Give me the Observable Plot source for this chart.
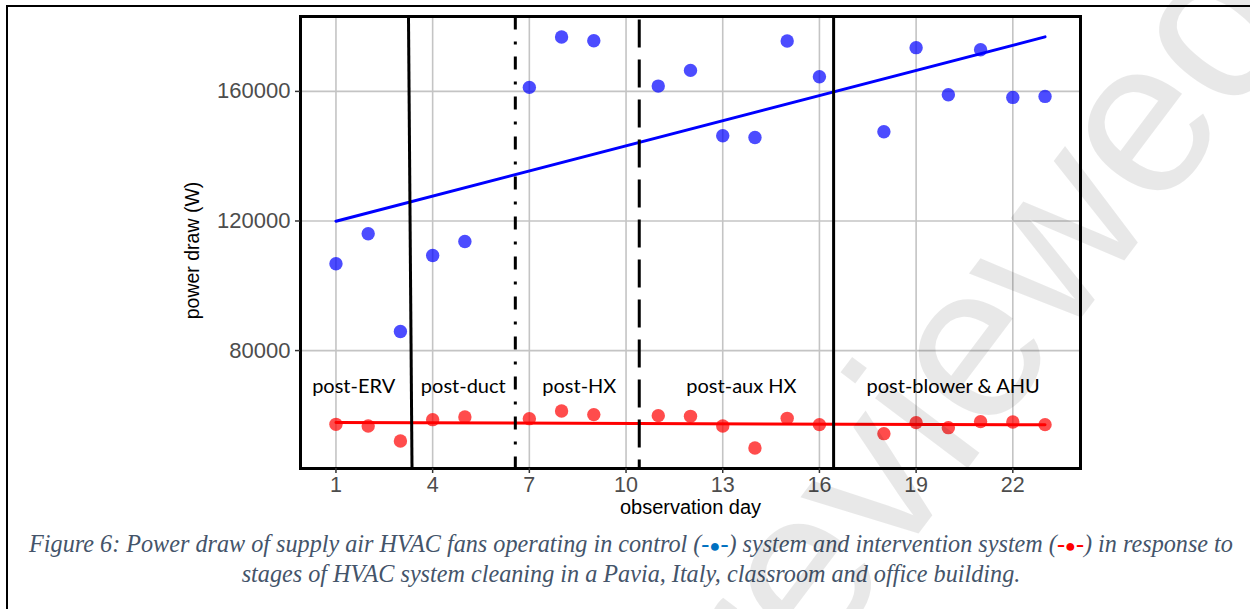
<!DOCTYPE html>
<html><head><meta charset="utf-8">
<script src="https://cdn.jsdelivr.net/npm/d3@7"></script>
<script src="https://cdn.jsdelivr.net/npm/@observablehq/plot@0.6"></script>
<style>
html,body{margin:0;padding:0;background:#fff;}
#page{position:relative;width:1250px;height:609px;overflow:hidden;background:#fff;}
#frame{position:absolute;left:6px;top:5px;width:1260px;height:620px;border-left:2px solid #000;border-top:2px solid #000;}
#chart{position:absolute;left:0;top:0;}
#caption{position:absolute;left:7px;width:1248px;top:530px;text-align:center;font-family:"Liberation Serif","Times New Roman",serif;font-style:italic;font-size:24.2px;line-height:27px;color:#44546a;}
#caption .b{color:#0070c0;}
#caption .r{color:#ff0000;}
#caption .dot{font-size:0.75em;font-style:normal;}
#wm{position:absolute;left:0;top:0;pointer-events:none;}
</style></head><body>
<div id="page">
  <div id="frame"></div>
  <div id="chart"></div>
  <div id="caption"></div>
  <svg id="wm" width="1250" height="609"><text id="wmText" transform="translate(775,724) rotate(-53)" font-family="Liberation Sans, Arial, sans-serif" font-size="220" fill="#000" fill-opacity="0.09">reviewed</text></svg>
</div>
<script>
// ---- data ----
const days = [1,2,3,4,5,7,8,9,11,12,13,14,15,16,18,19,20,21,22,23];
const control = [106780,116040,85870,109340,113670,161240,176780,175650,161640,166490,146310,145790,175540,164540,147550,173500,158980,172860,158150,158460];
const intervention = [57230,56730,52100,58680,59510,58990,61360,60230,59920,59700,56730,49940,59080,57140,54360,57760,56210,58070,57970,57140];
const stageNames = ["post-ERV","post-duct","post-HX","post-aux HX","post-blower & AHU"];
const stageLabelDay = [1.55,4.95,8.55,13.58,20.15];
const stageLabelLevel = 69000;
const boundaryTop = [3.25,6.565,10.41,16.44];
const boundaryBottom = [3.36,6.565,10.41,16.44];
const boundaryStyle = ["solid","dashdot","dashed","solid"];
const xTicks = [1,4,7,10,13,16,19,22];
const yTicks = [80000,120000,160000];
const xDomain = [-0.1,24.1];
const yDomain = [43600,183120];
const xTitle = "observation day";
const yTitle = "power draw (W)";
const captionHTML = 'Figure 6: Power draw of supply air HVAC fans operating in control (<span class="b">-<span class="dot">●</span>-</span>) system and intervention system (<span class="r">-<span class="dot">●</span>-</span>) in response to<br>stages of HVAC system cleaning in a Pavia, Italy, classroom and office building.';

// ---- tables ----
const ctrl = days.map((d,i)=>({day:d, power:control[i]}));
const intv = days.map((d,i)=>({day:d, power:intervention[i]}));
const stages = stageNames.map((n,i)=>({name:n, day:stageLabelDay[i], level:stageLabelLevel}));
const bounds = boundaryTop.map((t,i)=>({top:t, bottom:boundaryBottom[i], style:boundaryStyle[i]}));
const boundMark = (style, dash, offset) => Plot.link(bounds.filter(b=>b.style===style), {
  x1:"top", x2:"bottom", y1:()=>yDomain[1], y2:()=>yDomain[0],
  stroke:"#000", strokeWidth:3, strokeDasharray:dash, strokeDashoffset:offset
});

const chart = Plot.plot({
  width:1250, height:525,
  marginLeft:300, marginRight:170, marginTop:16, marginBottom:57,
  style:{fontFamily:"'Liberation Sans', Arial, sans-serif", background:"transparent", overflow:"visible"},
  x:{domain:xDomain, label:null},
  y:{domain:yDomain, label:null},
  marks:[
    Plot.gridX(xTicks, {stroke:"#c4c4c4", strokeOpacity:1, strokeWidth:1.6}),
    Plot.gridY(yTicks, {stroke:"#c4c4c4", strokeOpacity:1, strokeWidth:1.6}),
    Plot.dot(ctrl, {x:"day", y:"power", r:6.7, fill:"#0000ff", fillOpacity:0.7}),
    Plot.dot(intv, {x:"day", y:"power", r:6.7, fill:"#ff0000", fillOpacity:0.7}),
    Plot.linearRegressionY(ctrl, {x:"day", y:"power", stroke:"#0000ff", strokeWidth:3, ci:0}),
    Plot.linearRegressionY(intv, {x:"day", y:"power", stroke:"#ff0000", strokeWidth:3, ci:0}),
    boundMark("solid", null, 0),
    boundMark("dashdot", "13,12,3,12", 0),
    boundMark("dashed", "28,12", 37),
    Plot.text(stages, {x:"day", y:"level", text:"name", fontFamily:"Lato, 'Open Sans', sans-serif", fontSize:20, fill:"#000"}),
    Plot.frame({stroke:"#000", strokeWidth:3}),
    Plot.axisX(xTicks, {tickSize:5, tickPadding:3, fontSize:21.5, color:"#4d4d4d", stroke:"#333", strokeWidth:1.5, label:null}),
    Plot.axisY(yTicks, {tickSize:5, tickPadding:5, fontSize:22, color:"#4d4d4d", stroke:"#333", strokeWidth:1.5, label:null, tickFormat:d=>String(d)}),
    Plot.text([xTitle], {frameAnchor:"bottom", dy:45, text:d=>d, fontSize:20, fill:"#000"}),
    Plot.text([yTitle], {frameAnchor:"left", textAnchor:"middle", dx:-108, dy:8, rotate:-90, text:d=>d, fontSize:19.5, fill:"#000"})
  ]
});
document.getElementById("chart").appendChild(chart);
document.getElementById("caption").innerHTML = captionHTML;
</script>
</body></html>
